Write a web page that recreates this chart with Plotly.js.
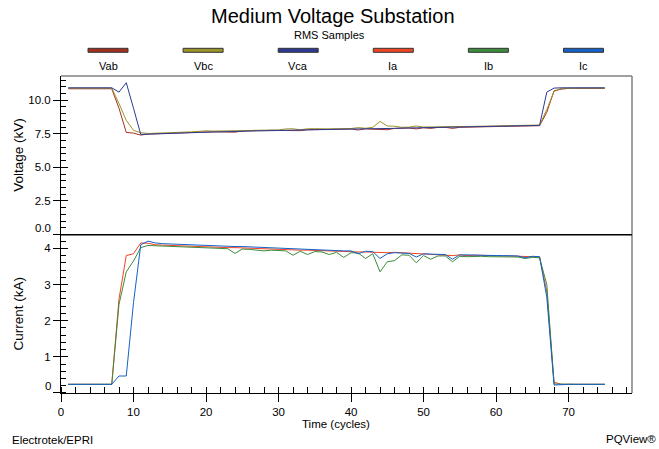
<!DOCTYPE html>
<html><head><meta charset="utf-8">
<script src="https://cdn.plot.ly/plotly-3.0.1.min.js"></script>
<style>html,body{margin:0;padding:0;background:#fff}#chart{width:659px;height:449px}</style>
</head><body><div id="chart"></div>
<script>
const cycles = [1,2,3,4,5,6,7,8,9,10,11,12,13,14,15,16,17,18,19,20,21,22,23,24,25,26,27,28,29,30,31,32,33,34,35,36,37,38,39,40,41,42,43,44,45,46,47,48,49,50,51,52,53,54,55,56,57,58,59,60,61,62,63,64,65,66,67,68,69,70,71,72,73,74,75];

const Vab = [10.85,10.85,10.85,10.85,10.85,10.85,10.85,
  9.4,7.6,7.55,7.4,
  7.48,7.5,7.55,7.58,7.58,7.57,7.6,7.62,7.63,7.65,
  7.64,7.62,7.62,7.7,7.73,7.74,7.74,7.76,7.76,7.75,
  7.72,7.73,7.8,7.81,7.82,7.83,7.84,7.85,7.86,7.78,
  7.87,7.84,7.8,7.8,7.9,7.92,7.93,7.86,7.95,7.9,
  7.97,7.98,7.9,7.98,8.0,8.01,8.02,8.03,8.04,8.05,
  8.06,8.06,8.08,8.1,8.1,
  9.1,10.7,10.82,
  10.88,10.88,10.88,10.88,10.88,10.88];

const Vbc = [10.9,10.9,10.9,10.9,10.9,10.9,10.9,
  9.75,8.5,7.75,7.58,
  7.52,7.53,7.55,7.58,7.6,7.62,7.64,7.68,7.72,7.7,
  7.7,7.74,7.74,7.73,7.74,7.76,7.77,7.77,7.78,7.86,
  7.87,7.8,7.87,7.88,7.85,7.86,7.87,7.88,7.89,7.96,
  7.91,7.98,8.42,8.08,8.06,7.98,7.99,8.08,8.0,8.01,
  8.02,8.02,8.08,8.04,8.04,8.05,8.06,8.07,8.08,8.09,
  8.1,8.16,8.12,8.13,8.15,
  9.3,10.65,10.88,
  10.9,10.9,10.9,10.9,10.9,10.9];

const Vca = [10.92,10.92,10.92,10.92,10.92,10.92,10.92,
  10.6,11.3,9.4,7.45,
  7.47,7.48,7.48,7.5,7.55,7.56,7.58,7.6,7.6,7.63,
  7.66,7.68,7.68,7.7,7.71,7.72,7.72,7.74,7.75,7.76,
  7.77,7.77,7.79,7.8,7.8,7.82,7.83,7.83,7.85,7.86,
  7.86,7.88,7.89,7.9,7.9,7.92,7.93,7.93,7.95,7.96,
  7.97,7.97,7.99,8.0,8.0,8.02,8.03,8.03,8.05,8.06,
  8.07,8.07,8.09,8.1,8.12,
  10.6,10.9,10.92,
  10.92,10.92,10.92,10.92,10.92,10.92];

const Ia = [0.24,0.24,0.24,0.24,0.24,0.24,0.24,
  2.6,3.8,3.85,4.15,
  4.14,4.1,4.09,4.08,4.07,4.06,4.06,4.05,4.04,4.04,
  4.03,4.02,4.02,4.01,4.0,3.99,3.98,3.98,3.97,3.96,
  3.96,3.95,3.95,3.94,3.93,3.93,3.92,3.92,3.91,3.9,
  3.9,3.89,3.88,3.88,3.89,3.88,3.86,3.84,3.84,3.83,
  3.83,3.82,3.8,3.82,3.8,3.81,3.8,3.8,3.8,3.79,
  3.79,3.78,3.79,3.77,3.76,
  2.8,0.3,0.24,
  0.24,0.24,0.24,0.24,0.24,0.24];

const Ib = [0.24,0.24,0.24,0.24,0.24,0.24,0.24,
  2.45,3.35,3.65,4.02,
  4.08,4.07,4.06,4.05,4.05,4.04,4.03,4.03,4.02,4.01,
  4.0,3.99,3.86,3.98,3.97,3.96,3.93,3.95,3.94,3.93,
  3.81,3.92,3.83,3.91,3.9,3.83,3.89,3.75,3.88,3.87,
  3.72,3.85,3.35,3.63,3.66,3.82,3.81,3.6,3.8,3.7,
  3.79,3.79,3.63,3.78,3.77,3.78,3.78,3.77,3.77,3.76,
  3.76,3.76,3.72,3.75,3.74,
  3.0,0.25,0.24,
  0.24,0.24,0.24,0.24,0.24,0.24];

const Ic = [0.24,0.24,0.24,0.24,0.24,0.24,0.24,
  0.47,0.47,2.5,4.1,
  4.2,4.15,4.13,4.12,4.12,4.11,4.1,4.09,4.08,4.08,
  4.07,4.06,4.05,4.05,4.04,4.03,4.02,4.01,4.0,3.99,
  3.98,3.97,3.97,3.96,3.95,3.95,3.94,3.93,3.93,3.85,
  3.92,3.91,3.72,3.85,3.88,3.87,3.86,3.76,3.85,3.84,
  3.84,3.83,3.7,3.82,3.82,3.81,3.81,3.8,3.8,3.8,
  3.79,3.79,3.74,3.78,3.77,
  2.65,0.22,0.24,
  0.24,0.24,0.24,0.24,0.24,0.24];

const seriesNames = ['Vab','Vbc','Vca','Ia','Ib','Ic'];
const seriesData = [Vab, Vbc, Vca, Ia, Ib, Ic];
const seriesAxis = ['y2','y2','y2','y','y','y'];
const colors = ['#a3301f','#9c9428','#2c3a94','#f04422','#3c8c3c','#1462c8'];

// geometry
const W = 659, H = 449;
const M = {l:61, r:27, t:76, b:56};
const PW = W - M.l - M.r, PH = H - M.t - M.b;
const px2x = px => (px - M.l) / PW;
const py2y = py => (H - M.b - py) / PH;
const FONT = 'Liberation Sans, Arial, sans-serif';

const traces = seriesNames.map((n, i) => ({
  type: 'scatter', mode: 'lines', name: n,
  x: cycles, y: seriesData[i],
  xaxis: 'x', yaxis: seriesAxis[i],
  line: {color: colors[i], width: 1},
  showlegend: false, hoverinfo: 'skip'
}));
// empty helpers for inner-tick overlay axes
traces.push({type:'scatter', x:[], y:[], xaxis:'x3', yaxis:'y', showlegend:false});
traces.push({type:'scatter', x:[], y:[], xaxis:'x', yaxis:'y3', showlegend:false});
traces.push({type:'scatter', x:[], y:[], xaxis:'x', yaxis:'y4', showlegend:false});

const tickFont = {family: FONT, size: 11.5, color: '#000'};
const xRange = [0, 78.75];
const iRange = [0, 4.37];
const vRange = [0, 11.8];

const shapes = [
  // top and right border
  {type:'line', xref:'paper', yref:'paper', x0:0, x1:1, y0:1, y1:1, line:{color:'#808080', width:1.5}},
  {type:'line', xref:'paper', yref:'paper', x0:1, x1:1, y0:0, y1:1, line:{color:'#808080', width:1.5}},
  // separator
  {type:'line', xref:'paper', yref:'paper', x0:0, x1:1, y0:0.4993, y1:0.4993, line:{color:'#000', width:1.5}}
];
const annotations = [];

// legend row (swatch above label)
const legCx0 = 108, legStep = 95.1, swW = 40, swTop = 48.3, swBot = 52.3, legLabelY = 66;
seriesNames.forEach((n, i) => {
  const cx = legCx0 + i * legStep;
  shapes.push({type:'rect', xref:'paper', yref:'paper',
    x0: px2x(cx - swW/2), x1: px2x(cx + swW/2), y0: py2y(swBot), y1: py2y(swTop),
    fillcolor: colors[i], line:{color:'#333', width:1}});
  annotations.push({xref:'paper', yref:'paper', x: px2x(cx), y: py2y(legLabelY),
    text: n, showarrow:false, xanchor:'center', yanchor:'middle',
    font:{family: FONT, size: 11, color:'#000'}});
});

annotations.push(
  {xref:'paper', yref:'paper', x: px2x(329.5), y: py2y(35), text:'RMS Samples', showarrow:false,
   xanchor:'center', yanchor:'middle', font:{family:FONT, size:11, color:'#000'}},
  {xref:'paper', yref:'paper', x: px2x(18.5), y: 0.75, text:'Voltage (kV)', textangle:-90, showarrow:false,
   xanchor:'center', yanchor:'middle', font:{family:FONT, size:13.5, color:'#000'}},
  {xref:'paper', yref:'paper', x: px2x(18.5), y: 0.249, text:'Current (kA)', textangle:-90, showarrow:false,
   xanchor:'center', yanchor:'middle', font:{family:FONT, size:13.5, color:'#000'}},
  {xref:'paper', yref:'paper', x: px2x(336), y: py2y(424), text:'Time (cycles)', showarrow:false,
   xanchor:'center', yanchor:'middle', font:{family:FONT, size:11.5, color:'#000'}},
  {xref:'paper', yref:'paper', x: px2x(10), y: py2y(440), text:'Electrotek/EPRI', showarrow:false,
   xanchor:'left', yanchor:'middle', font:{family:FONT, size:11.5, color:'#000'}},
  {xref:'paper', yref:'paper', x: px2x(658), y: py2y(439), text:'PQView®', showarrow:false,
   xanchor:'right', yanchor:'middle', font:{family:FONT, size:11.5, color:'#000'}},
  // bottom labels of each panel, lifted off the panel edge
  {xref:'paper', yref:'paper', x: px2x(53), y: py2y(228), text:'0.0', showarrow:false,
   xanchor:'right', yanchor:'middle', font:tickFont},
  {xref:'paper', yref:'paper', x: px2x(53), y: py2y(386), text:'0', showarrow:false,
   xanchor:'right', yanchor:'middle', font:tickFont}
);

const layout = {
  width: W, height: H,
  margin: {l:M.l, r:M.r, t:M.t, b:M.b, pad:0},
  paper_bgcolor:'#fff', plot_bgcolor:'#fff',
  showlegend:false,
  title: {text:'Medium Voltage Substation', font:{family:FONT, size:20, color:'#000'},
          x:0.505, xref:'container', xanchor:'center', y:1 - 16/H, yref:'container', yanchor:'middle'},
  xaxis: {domain:[0,1], range:xRange, anchor:'y', showline:true, linecolor:'#000', linewidth:1,
    ticks:'outside', ticklen:8, tickwidth:1, tickcolor:'#000', tick0:0, dtick:10,
    minor:{tick0:0, dtick:2, ticks:'inside', ticklen:6, tickwidth:1, tickcolor:'#000'},
    showgrid:false, zeroline:false, tickfont:tickFont, fixedrange:true},
  xaxis3: {overlaying:'x', anchor:'y', range:xRange, ticks:'inside', ticklen:6, tickwidth:1, tickcolor:'#000',
    tick0:0, dtick:10, showticklabels:false, showline:false, showgrid:false, zeroline:false},
  yaxis: {domain:[0,0.4985], range:iRange, anchor:'x', showline:true, linecolor:'#000', linewidth:1,
    ticks:'outside', ticklen:7, tickwidth:1, tickcolor:'#000', tick0:0, dtick:1,
    labelalias:{'0':' '},
    minor:{tick0:0, dtick:0.2, ticks:'inside', ticklen:5, tickwidth:1, tickcolor:'#000'},
    showgrid:false, zeroline:false, tickfont:tickFont},
  yaxis3: {overlaying:'y', anchor:'x', range:iRange, ticks:'inside', ticklen:7, tickwidth:1, tickcolor:'#000',
    tick0:0, dtick:1, showticklabels:false, showline:false, showgrid:false, zeroline:false},
  yaxis2: {domain:[0.5,1], range:vRange, anchor:'x', showline:true, linecolor:'#000', linewidth:1,
    ticks:'outside', ticklen:7, tickwidth:1, tickcolor:'#000', tick0:0, dtick:2.5, tickformat:'.1f',
    labelalias:{'0.0':' '},
    minor:{tick0:0, dtick:0.5, ticks:'inside', ticklen:5, tickwidth:1, tickcolor:'#000'},
    showgrid:false, zeroline:false, tickfont:tickFont},
  yaxis4: {overlaying:'y2', anchor:'x', range:vRange, ticks:'inside', ticklen:7, tickwidth:1, tickcolor:'#000',
    tick0:0, dtick:2.5, showticklabels:false, showline:false, showgrid:false, zeroline:false},
  shapes: shapes,
  annotations: annotations
};

Plotly.newPlot('chart', traces, layout, {staticPlot:true, displayModeBar:false});
</script>
</body></html>
